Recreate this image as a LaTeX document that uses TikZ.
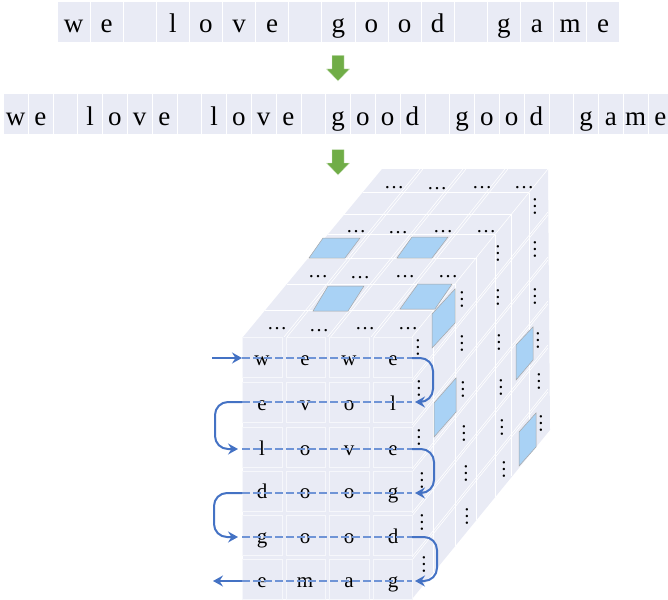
\documentclass[tikz,border=0pt]{standalone}
\usepackage{fontspec}
\setmainfont{Liberation Serif}
\usetikzlibrary{arrows.meta}
\definecolor{tile}{HTML}{E9EBF5}
\definecolor{bluepanel}{HTML}{A9D2F5}
\definecolor{flow}{HTML}{4472C4}
\definecolor{flowdash}{HTML}{6F94D6}
\definecolor{greenarrow}{HTML}{70AD47}
\tikzset{
  seqcell/.style={fill=tile,draw=white,line width=0.8pt},
  seqchar/.style={anchor=base,inner sep=0pt,font=\fontsize{27}{27}\selectfont},
  cubechar/.style={anchor=base,inner sep=0pt,font=\fontsize{21}{21}\selectfont},
  hdots/.style={inner sep=0pt,font=\fontsize{20}{20}\selectfont},
  vdots/.style={inner sep=0pt,rotate=90,font=\fontsize{20}{20}\selectfont},
  grid/.style={draw=white,line width=0.6pt},
  frontcell/.style={fill=tile,draw=white!60!tile,line width=0.6pt},
  panel/.style={fill=bluepanel,draw=black!35,line width=0.5pt},
  greenblock/.style={fill=greenarrow,draw=white!70!greenarrow,line width=0.4pt},
  dashline/.style={draw=flowdash,line width=1.5pt,dash pattern=on 8pt off 3pt},
  flowline/.style={draw=flow,line width=2pt},
  flowtip/.style={flowline,-{Stealth[length=10pt,width=11pt,inset=3.5pt]}},
  uturn/.style={flowtip,rounded corners=13pt},
}
\begin{document}
\begin{tikzpicture}[x=1pt,y=-1pt]
\useasboundingbox (0,0) rectangle (668,599);
\clip (0,0) rectangle (668,599);
% sequence 1
\foreach \i/\t in {0/w,1/e,2/,3/l,4/o,5/v,6/e,7/,8/g,9/o,10/o,11/d,12/,13/g,14/a,15/m,16/e}{
  \path[seqcell] ({57+33.1*\i},1) rectangle ({57+33.1*(\i+1)},42);
  \node[seqchar] (a\i) at ({73.5+33.1*\i},33) {\t};
}
% sequence 2
\foreach \i/\t in {0/w,1/e,2/,3/l,4/o,5/v,6/e,7/,8/l,9/o,10/v,11/e,12/,13/g,14/o,15/o,16/d,17/,18/g,19/o,20/o,21/d,22/,23/g,24/a,25/m,26/e}{
  \path[seqcell] ({3.4+24.8*\i},93) rectangle ({3.4+24.8*(\i+1)},134);
  \node[seqchar] (b\i) at ({15.6+24.8*\i},125) {\t};
}
% green arrows
\path[greenblock] (332,55.5)--(344,55.5)--(344,69)--(349.5,69)--(338,81)--(326.5,69)--(332,69)--cycle;
\path[greenblock] (332,149.5)--(344,149.5)--(344,163)--(349.5,163)--(338,175)--(326.5,163)--(332,163)--cycle;
% cube body
\fill[tile] (243,337)--(382,169)--(548,169)--(550,430)--(412,599)--(243,599)--cycle;
% top face: depth bands
\foreach \d in {0.16,0.315,0.47,0.61,0.73,0.86}{
  \draw[grid] ({243+139*\d},{337-168*\d}) -- ({412+136*\d},{337-168*\d});
}
% top face: column lines
\foreach \f/\k in {284/420,327.5/463,371/505}{
  \draw[grid] (\f,337) -- (\k,169);
  \draw[grid] (\f+3,337) -- (\k+3,169);
}
% right face: depth lines
\foreach \d in {0.16,0.315,0.47,0.61,0.73,0.86}{
  \draw[grid] ({412+136*\d},{337-168*\d}) -- ({412+136*\d},{599-168*\d});
}
% right face: row lines
\foreach \y in {380,425,469,513,557}{
  \draw[grid] (412,\y) -- (548,\y-168);
  \draw[grid] (412,\y+3) -- (548,\y-165);
}
\draw[grid] (412,337) -- (548,169);
% front face
\foreach \yy in {337,382,427,471,515,559}{
  \foreach \xx/\xe in {242/282,286/325,329/369,373/412}{
    \path[frontcell] (\xx,\yy) rectangle (\xe,\yy+40);
  }
}
% dots on top face
\foreach \x/\y [count=\n] in {394/188,437/189,482/188,524/188,356/232,398/233,443/232,486/232,318/277,360/278,405/277,448/277,277/329,319/331,365/329,408/329}{
  \node[hdots] (h\n) at (\x,\y) {…};
}
% dots on right face
\foreach \x/\y [count=\n] in {535/206,535/249,535/296,538/340,539/381,541/423,498/253,498/297,499/342,501/387,502/427,504/469,462/299,462/343,463/389,464/433,466/473,467/516,418/347,419/388,419/437,422/480,422/522,424/564}{
  \node[vdots] (v\n) at (\x,\y) {…};
}
% blue panels
\path[panel] (323,238)--(360,238)--(345,258)--(309,258)--cycle;
\path[panel] (412,237)--(448,237)--(432,258)--(397,258)--cycle;
\path[panel] (328,286)--(364,286)--(348,311)--(313,311)--cycle;
\path[panel] (418,284)--(452,284)--(435,309)--(400,309)--cycle;
\path[panel] (455,289)--(455,323)--(432,348)--(432,314)--cycle;
\path[panel] (533,327)--(533,360)--(516,380)--(516,345)--cycle;
\path[panel] (456,378)--(456,412)--(434,437)--(434,403)--cycle;
\path[panel] (536,413)--(536,447)--(519,466)--(519,432)--cycle;
% letters
\foreach \ty/\ra/\rb/\rc/\rd/\rn in {365/w/e/w/e/1,410/e/v/o/l/2,455/l/o/v/e/3,498/d/o/o/g/4,543/g/o/o/d/5,587/e/m/a/g/6}{
  \node[cubechar] (c\rn a) at (262,\ty) {\ra};
  \node[cubechar] (c\rn b) at (305,\ty) {\rb};
  \node[cubechar] (c\rn c) at (349,\ty) {\rc};
  \node[cubechar] (c\rn d) at (393,\ty) {\rd};
}
% row anchors
\coordinate (start) at (212,358);
\coordinate (finish) at (213,581);
\foreach \n/\y in {1/358,2/402,3/449,4/493,5/537,6/581}{
  \coordinate (L\n) at (242,\y);
  \coordinate (R\n) at (412,\y);
  \coordinate (Ri\n) at (415,\y);
  \coordinate (Li\n) at (238,\y);
}
\foreach \n in {1,...,6}{ \draw[dashline] (L\n) -- (R\n); }
% serpentine
\draw[flowtip] (start) -- (L1);
\draw[uturn] (R1) -- ++(21,0) -- ++(0,44) -- (Ri2);
\draw[uturn] (L2) -- ++(-27,0) -- ++(0,47) -- (Li3);
\draw[uturn] (R3) -- ++(22,0) -- ++(0,44) -- (Ri4);
\draw[uturn] (L4) -- ++(-28,0) -- ++(0,44) -- (Li5);
\draw[uturn] (R5) -- ++(25,0) -- ++(0,44) -- (Ri6);
\draw[flowtip] (L6) -- (finish);
\end{tikzpicture}
\end{document}
